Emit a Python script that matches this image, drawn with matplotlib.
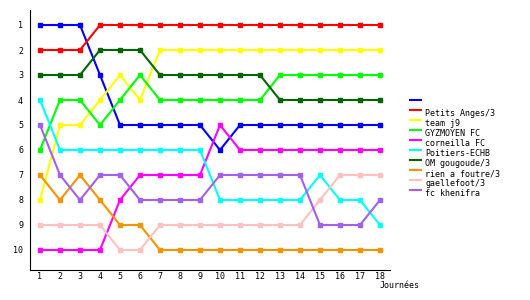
import matplotlib
matplotlib.use("Agg")
import matplotlib.pyplot as plt
from matplotlib.lines import Line2D

journees = list(range(1, 19))

teams = ['', 'Petits Anges/3', 'team j9', 'GYZMOYEN FC', 'corneilla FC',
         'Poitiers-ECHB', 'OM gougoude/3', 'rien a foutre/3', 'gaellefoot/3',
         'fc khenifra']
colors = ['#0000ff', '#ff0000', '#ffff00', '#00ff00', '#ff00ff',
          '#00ffff', '#006600', '#f59300', '#ffc0c0', '#a35ff0']

# classement par journee
blue     = [1, 1, 1, 3, 5, 5, 5, 5, 5, 6, 5, 5, 5, 5, 5, 5, 5, 5]
petits   = [2, 2, 2, 1, 1, 1, 1, 1, 1, 1, 1, 1, 1, 1, 1, 1, 1, 1]
team_j9  = [8, 5, 5, 4, 3, 4, 2, 2, 2, 2, 2, 2, 2, 2, 2, 2, 2, 2]
gyzmoyen = [6, 4, 4, 5, 4, 3, 4, 4, 4, 4, 4, 4, 3, 3, 3, 3, 3, 3]
corneill = [10, 10, 10, 10, 8, 7, 7, 7, 7, 5, 6, 6, 6, 6, 6, 6, 6, 6]
poitiers = [4, 6, 6, 6, 6, 6, 6, 6, 6, 8, 8, 8, 8, 8, 7, 8, 8, 9]
om_goug  = [3, 3, 3, 2, 2, 2, 3, 3, 3, 3, 3, 3, 4, 4, 4, 4, 4, 4]
rien     = [7, 8, 7, 8, 9, 9, 10, 10, 10, 10, 10, 10, 10, 10, 10, 10, 10, 10]
gaelle   = [9, 9, 9, 9, 10, 10, 9, 9, 9, 9, 9, 9, 9, 9, 8, 7, 7, 7]
khenifra = [5, 7, 8, 7, 7, 8, 8, 8, 8, 7, 7, 7, 7, 7, 9, 9, 9, 8]

ranks = [blue, petits, team_j9, gyzmoyen, corneill, poitiers, om_goug,
         rien, gaelle, khenifra]

plt.rcParams['font.family'] = 'DejaVu Sans Mono'
plt.rcParams['font.size'] = 6

W, H = 530, 300
fig = plt.figure(figsize=(W / 100, H / 100), dpi=100)
ax = fig.add_axes([30 / W, 30 / H, 360 / W, 260 / H])

for col, r in zip(colors, ranks):
    ax.plot(journees, r, color=col, lw=1.5, marker='s', ms=2.2)

ax.set_xlim(0.5, 18.5)
ax.set_ylim(10.8, 0.4)
ax.set_xticks(journees)
ax.set_yticks(range(1, 11))
ax.tick_params(axis='x', length=0, pad=1.5)
ax.tick_params(axis='y', length=0, pad=5)
for s in ['top', 'right']:
    ax.spines[s].set_visible(False)

fig.text(380 / W, 1 - 285 / H, 'Journées', ha='left', va='center')

# legende (traits un peu au-dessus des noms, comme sur l'original)
for i, (name, col) in enumerate(zip(teams, colors)):
    y = 1 - (100 + 10 * i) / H
    fig.add_artist(Line2D([410 / W, 421 / W], [y, y], color=col, lw=1.5,
                          transform=fig.transFigure))
    fig.text(425 / W, y - 4 / H, name, ha='left', va='center')

fig.savefig('out.png', dpi=100)
